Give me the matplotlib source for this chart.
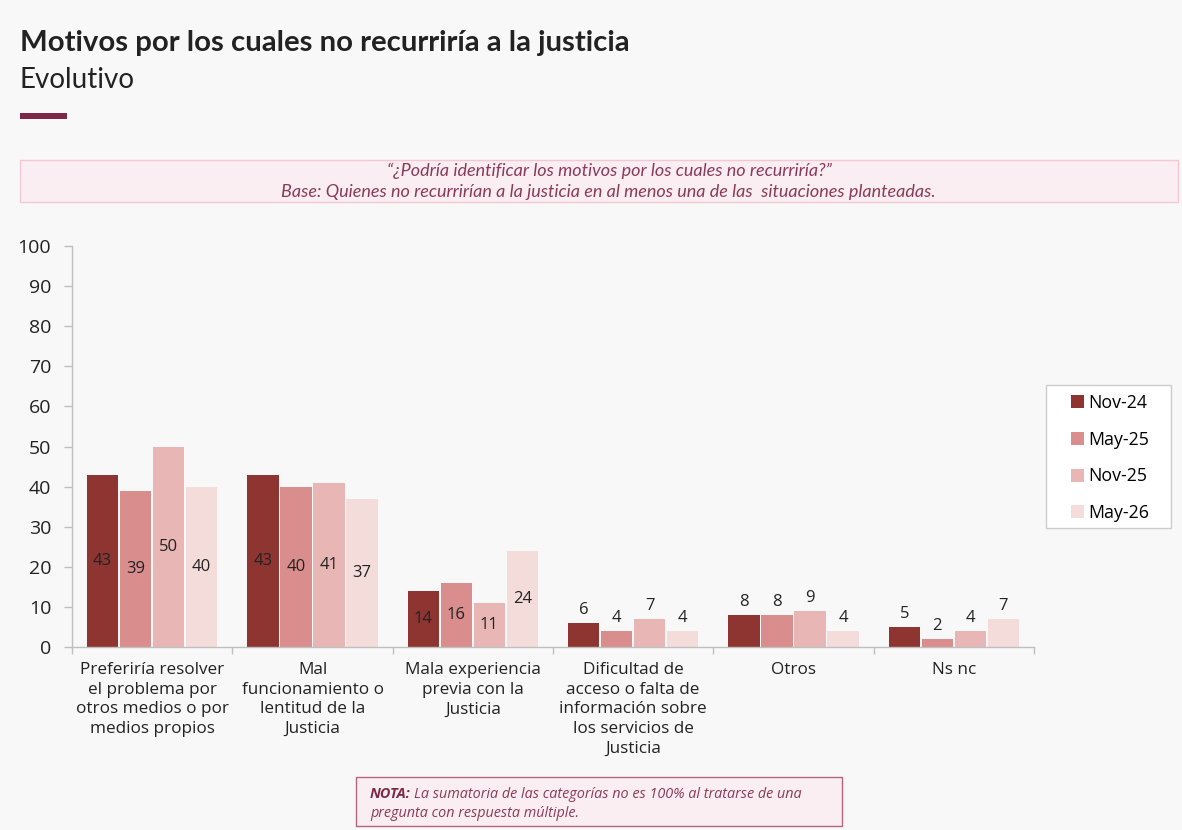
import matplotlib
matplotlib.use("Agg")
import matplotlib.pyplot as plt
from matplotlib.patches import Rectangle
import numpy as np

categories = [
    "Preferiría resolver\nel problema por\notros medios o por\nmedios propios",
    "Mal\nfuncionamiento o\nlentitud de la\nJusticia",
    "Mala experiencia\nprevia con la\nJusticia",
    "Dificultad de\nacceso o falta de\ninformación sobre\nlos servicios de\nJusticia",
    "Otros",
    "Ns nc",
]
series_names = ["Nov-24", "May-25", "Nov-25", "May-26"]
nov24 = [43, 43, 14, 6, 8, 5]
may25 = [39, 40, 16, 4, 8, 2]
nov25 = [50, 41, 11, 7, 9, 4]
may26 = [40, 37, 24, 4, 4, 7]
colors = ["#8e3431", "#d98d8c", "#e9b6b6", "#f3dcda"]

plt.rcParams['font.family'] = ['Open Sans', 'DejaVu Sans']

W, H = 1182, 830
fig = plt.figure(figsize=(W / 100, H / 100), dpi=100)
fig.patch.set_facecolor("#f8f8f8")

def fx(px):
    return px / W

def fy(py):
    return 1 - py / H

# Title
fig.text(fx(20), fy(43), "Motivos por los cuales no recurriría a la justicia",
         fontsize=21.2, fontweight="bold", color="#222222", va="center", ha="left", family=["Lato", "DejaVu Sans"])
fig.text(fx(20), fy(80), "Evolutivo", fontsize=20, color="#222222", va="center", ha="left", family=["Lato", "DejaVu Sans"])
fig.patches.append(Rectangle((fx(20), fy(119)), fx(47), 6 / H, transform=fig.transFigure,
                             facecolor="#7d2847", edgecolor="none"))

# Question box
fig.patches.append(Rectangle((fx(20), fy(202)), fx(1158), 42 / H, transform=fig.transFigure,
                             facecolor="#fbeef2", edgecolor="#f2c9d3", linewidth=1))
fig.text(fx(609), fy(171), "“¿Podría identificar los motivos por los cuales no recurriría?”",
         fontsize=13, style="italic", color="#8b3a58", ha="center", va="center", family=["Lato", "DejaVu Sans"])
fig.text(fx(608), fy(192), "Base: Quienes no recurrirían a la justicia en al menos una de las  situaciones planteadas.",
         fontsize=13, style="italic", color="#8b3a58", ha="center", va="center", family=["Lato", "DejaVu Sans"])

# Axes
ax = fig.add_axes([fx(72), fy(647), fx(1034 - 72), (647 - 246) / H])
ax.set_facecolor("#f8f8f8")
x = np.arange(len(categories))
width = 0.194
step = 0.206
all_series = [nov24, may25, nov25, may26]
for i, (vals, c, name) in enumerate(zip(all_series, colors, series_names)):
    pos = x + (i - 1.5) * step
    ax.bar(pos, vals, width=width, color=c, label=name, edgecolor="none")
    for j, (p, v) in enumerate(zip(pos, vals)):
        if j < 3:
            ax.text(p, v / 2, str(v), ha="center", va="center", fontsize=12, color="#222222")
        else:
            ax.text(p, v + 1.2, str(v), ha="center", va="bottom", fontsize=12, color="#222222")

ax.set_xlim(-0.5, len(categories) - 0.5)
ax.set_ylim(0, 100)
ax.set_yticks(range(0, 101, 10))
ax.tick_params(axis="y", labelsize=14, colors="#bfbfbf", labelcolor="#222222", length=6, width=1, pad=9)
ax.set_xticks(x)
ax.set_xticklabels(categories, fontsize=12.3, color="#222222", linespacing=1.3, va="top")
ax.tick_params(axis="x", length=0, pad=11)
ax.set_xticks(np.arange(-0.5, len(categories)), minor=True)
ax.tick_params(axis="x", which="minor", length=5, colors="#bfbfbf", width=1)
for s in ["top", "right"]:
    ax.spines[s].set_visible(False)
for s in ["left", "bottom"]:
    ax.spines[s].set_color("#bfbfbf")
    ax.spines[s].set_linewidth(1)

# Legend frame + legend
fig.patches.append(Rectangle((fx(1046), fy(528)), fx(125), (528 - 385) / H, transform=fig.transFigure,
                             facecolor="white", edgecolor="#cccccc", linewidth=1, zorder=1))
handles, labels = ax.get_legend_handles_labels()
leg = fig.legend(handles, labels, loc="center left", bbox_to_anchor=(fx(1071), fy(458)),
                 bbox_transform=fig.transFigure,
                 fontsize=12.8, frameon=False, handlelength=0.75, handleheight=0.75, handletextpad=0.2,
                 labelspacing=1.05, borderpad=0, borderaxespad=0)
leg.set_zorder(6)

# Note box
fig.patches.append(Rectangle((fx(356), fy(826)), fx(486), 49 / H, transform=fig.transFigure,
                             facecolor="#fbeef2", edgecolor="#b5667e", linewidth=1))
t1 = fig.text(fx(370), fy(794), "NOTA:", fontsize=10.4, style="italic", fontweight="bold",
              color="#7d2847", ha="left", va="center")
fig.canvas.draw()
bb = t1.get_window_extent()
fig.text(bb.x1 / W + 3 / W, fy(794), "La sumatoria de las categorías no es 100% al tratarse de una",
         fontsize=10.4, style="italic", color="#8b3a58", ha="left", va="center")
fig.text(fx(370), fy(813), "pregunta con respuesta múltiple.",
         fontsize=10.4, style="italic", color="#8b3a58", ha="left", va="center")

fig.savefig("out.png", dpi=100, facecolor=fig.get_facecolor())
